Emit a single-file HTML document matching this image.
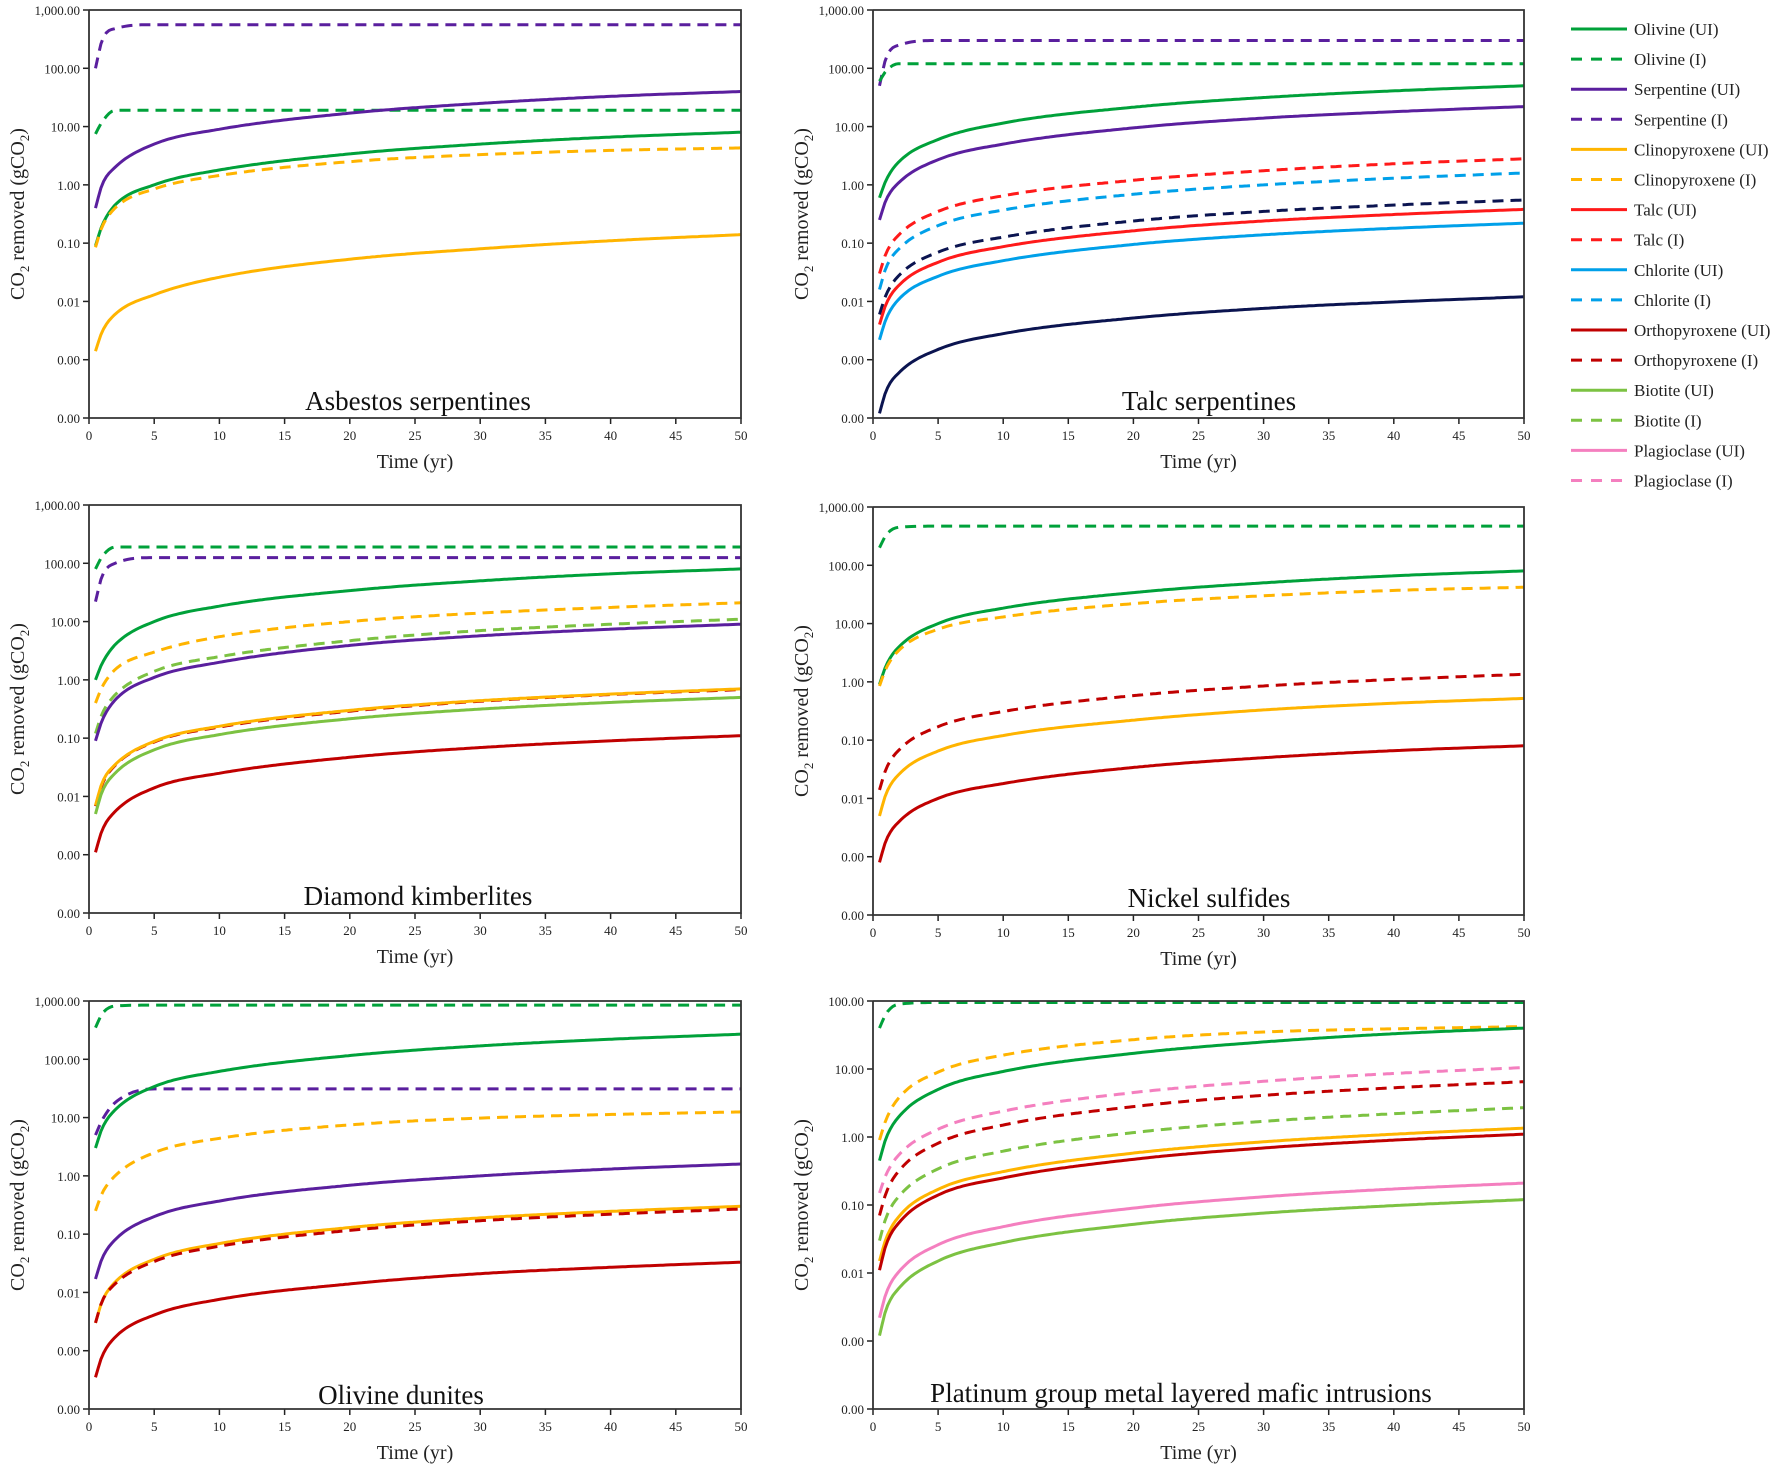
<!DOCTYPE html>
<html><head><meta charset="utf-8">
<style>
body{margin:0;background:#fff}
svg{display:block;font-family:"Liberation Serif",serif}
</style></head>
<body>
<svg id="fig" width="1772" height="1470" viewBox="0 0 1772 1470"></svg>
<script>
const T = [0.5,1,2,5,10,20,30,40,50];
const xTicks = [0,5,10,15,20,25,30,35,40,45,50];
const colors = {ol:'#00a13a',serp:'#5a1f9e',clino:'#ffb400',talc:'#ff1a1a',chl:'#00a0e9',ortho:'#c00000',bio:'#7cc242',plag:'#f47fbf',navy:'#0b1450'};

const asbestosSeries = [
 {m:'serp',d:true, v:[100,300,480,560,560,560,560,560,560]},
 {m:'ol',d:true, v:[7.5,12,19,19,19,19,19,19,19]},
 {m:'serp',d:false,v:[0.4,1,2,5,9,17,25,33,40]},
 {m:'ol',d:false,v:[0.09,0.2,0.45,1,1.8,3.4,5,6.6,8]},
 {m:'clino',d:true,v:[0.085,0.19,0.4,0.85,1.45,2.5,3.3,3.9,4.3]},
 {m:'clino',d:false,v:[0.0014,0.003,0.006,0.013,0.026,0.053,0.08,0.11,0.14]}
];
const talcSeries = [
 {m:'serp',d:true,v:[50,150,250,300,300,300,300,300,300]},
 {m:'ol',d:true,v:[60,90,120,120,120,120,120,120,120]},
 {m:'ol',d:false,v:[0.6,1.2,2.5,6,11.5,21.5,31.5,41,50]},
 {m:'serp',d:false,v:[0.25,0.55,1.1,2.7,5,9.5,14,18,22]},
 {m:'talc',d:true,v:[0.03,0.067,0.14,0.35,0.65,1.2,1.75,2.3,2.8]},
 {m:'chl',d:true,v:[0.016,0.038,0.08,0.2,0.37,0.69,1,1.3,1.6]},
 {m:'navy',d:true,v:[0.006,0.013,0.028,0.07,0.127,0.24,0.35,0.45,0.55]},
 {m:'talc',d:false,v:[0.004,0.009,0.019,0.047,0.087,0.163,0.24,0.31,0.38]},
 {m:'chl',d:false,v:[0.0022,0.005,0.011,0.027,0.05,0.095,0.139,0.18,0.22]},
 {m:'navy',d:false,v:[0.00012,0.00029,0.0006,0.0015,0.0028,0.0052,0.0076,0.0098,0.012]}
];
const diamondSeries = [
 {m:'ol',d:true,v:[80,130,190,190,190,190,190,190,190]},
 {m:'serp',d:true,v:[22,60,100,125,125,125,125,125,125]},
 {m:'ol',d:false,v:[1,1.9,4,10,18.4,34,50,66,80]},
 {m:'clino',d:true,v:[0.4,0.75,1.5,3,5.5,10,14,17.5,21]},
 {m:'bio',d:true,v:[0.12,0.26,0.55,1.4,2.5,4.7,7,9,11]},
 {m:'serp',d:false,v:[0.09,0.2,0.45,1.1,2,3.9,5.7,7.4,9]},
 {m:'ortho',d:true,v:[0.0068,0.016,0.034,0.086,0.155,0.29,0.43,0.56,0.68]},
 {m:'clino',d:false,v:[0.007,0.017,0.035,0.088,0.16,0.3,0.44,0.57,0.7]},
 {m:'bio',d:false,v:[0.005,0.012,0.025,0.063,0.115,0.215,0.315,0.41,0.5]},
 {m:'ortho',d:false,v:[0.0011,0.0026,0.0055,0.014,0.025,0.047,0.069,0.09,0.11]}
];
const nickelSeries = [
 {m:'ol',d:true,v:[200,330,450,470,470,470,470,470,470]},
 {m:'ol',d:false,v:[0.9,1.9,4,10,18.4,34,50,66,80]},
 {m:'clino',d:true,v:[0.85,1.7,3.5,8,13,22,30,37,42]},
 {m:'ortho',d:true,v:[0.014,0.032,0.068,0.17,0.31,0.58,0.85,1.1,1.35]},
 {m:'clino',d:false,v:[0.005,0.012,0.026,0.065,0.12,0.22,0.33,0.43,0.52]},
 {m:'ortho',d:false,v:[0.0008,0.0019,0.004,0.01,0.018,0.034,0.05,0.066,0.08]}
];
const duniteSeries = [
 {m:'ol',d:true,v:[350,600,820,850,850,850,850,850,850]},
 {m:'serp',d:true,v:[5,9,18,31,31,31,31,31,31]},
 {m:'ol',d:false,v:[3,6.5,13.5,34,62,116,170,221,270]},
 {m:'clino',d:true,v:[0.25,0.5,1,2.5,4.4,7.5,9.8,11.3,12.5]},
 {m:'serp',d:false,v:[0.017,0.038,0.08,0.2,0.37,0.69,1,1.31,1.6]},
 {m:'clino',d:false,v:[0.003,0.007,0.015,0.037,0.069,0.13,0.19,0.246,0.3]},
 {m:'ortho',d:true,v:[0.003,0.007,0.014,0.034,0.062,0.116,0.17,0.22,0.27]},
 {m:'ortho',d:false,v:[0.00035,0.0008,0.0017,0.0041,0.0076,0.014,0.021,0.027,0.033]}
];
const platinumSeries = [
 {m:'ol',d:true,v:[40,65,90,95,95,95,95,95,95]},
 {m:'clino',d:true,v:[0.9,1.8,3.8,9,16,27,35,39,42]},
 {m:'ol',d:false,v:[0.45,0.96,2,5,9.2,17,25,33,40]},
 {m:'plag',d:true,v:[0.15,0.28,0.55,1.3,2.4,4.5,6.6,8.6,10.5]},
 {m:'ortho',d:true,v:[0.07,0.15,0.32,0.81,1.5,2.8,4.1,5.3,6.5]},
 {m:'bio',d:true,v:[0.03,0.065,0.135,0.34,0.62,1.16,1.7,2.2,2.7]},
 {m:'clino',d:false,v:[0.015,0.032,0.068,0.17,0.31,0.58,0.85,1.1,1.35]},
 {m:'ortho',d:false,v:[0.011,0.026,0.055,0.14,0.25,0.47,0.69,0.9,1.1]},
 {m:'plag',d:false,v:[0.0022,0.005,0.0105,0.026,0.048,0.09,0.132,0.172,0.21]},
 {m:'bio',d:false,v:[0.0012,0.0029,0.006,0.015,0.028,0.052,0.076,0.098,0.12]}
];
const yTicksFull = ['1,000.00','100.00','10.00','1.00','0.10','0.01','0.00','0.00'];
const yTicksShort = ['100.00','10.00','1.00','0.10','0.01','0.00','0.00'];
const legendLabels = ['Olivine (UI)','Olivine (I)','Serpentine (UI)','Serpentine (I)','Clinopyroxene (UI)','Clinopyroxene (I)','Talc (UI)','Talc (I)','Chlorite (UI)','Chlorite (I)','Orthopyroxene (UI)','Orthopyroxene (I)','Biotite (UI)','Biotite (I)','Plagioclase (UI)','Plagioclase (I)'];
const legendKeys = ['ol','ol','serp','serp','clino','clino','talc','talc','chl','chl','ortho','ortho','bio','bio','plag','plag'];

const NS='http://www.w3.org/2000/svg';
const svg=document.getElementById('fig');
function mk(tag,attrs,parent){const e=document.createElementNS(NS,tag);for(const k in attrs)e.setAttribute(k,attrs[k]);(parent||svg).appendChild(e);return e;}

function monotone(xs,ys){
 const n=xs.length,d=[],m=[];
 for(let i=0;i<n-1;i++)d.push((ys[i+1]-ys[i])/(xs[i+1]-xs[i]));
 m[0]=d[0];m[n-1]=d[n-2];
 for(let i=1;i<n-1;i++){m[i]=(d[i-1]*d[i]<=0)?0:(d[i-1]+d[i])/2;}
 for(let i=0;i<n-1;i++){if(d[i]===0){m[i]=0;m[i+1]=0;continue;}const a=m[i]/d[i],b=m[i+1]/d[i],s=a*a+b*b;if(s>9){const t=3/Math.sqrt(s);m[i]=t*a*d[i];m[i+1]=t*b*d[i];}}
 return function(x){let i=0;while(i<n-2&&x>xs[i+1])i++;const h=xs[i+1]-xs[i],t=(x-xs[i])/h,t2=t*t,t3=t2*t;
  return (2*t3-3*t2+1)*ys[i]+(t3-2*t2+t)*h*m[i]+(-2*t3+3*t2)*ys[i+1]+(t3-t2)*h*m[i+1];};
}

function panel(name,title,L,R,Tp,B,topExp,yLabels,series,tx,ty,ytx){
 const g=mk('g',{});
 const nDec=topExp+4;
 const xs=t=>L+(R-L)*t/50;
 const ys=v=>Tp+(B-Tp)*(topExp-Math.log10(v))/nDec;
 yLabels.forEach((lab,i)=>{const y=Tp+(B-Tp)*i/nDec;
  mk('line',{x1:L-6,x2:L,y1:y,y2:y,stroke:'#222','stroke-width':1.5},g);
  const t=mk('text',{x:L-9,y:y+5,'text-anchor':'end','font-size':13,fill:'#222'},g);t.textContent=lab;
  });
 xTicks.forEach(v=>{const x=xs(v);
  mk('line',{x1:x,x2:x,y1:B,y2:B+6,stroke:'#222','stroke-width':1.5},g);
  const t=mk('text',{x:x,y:B+22,'text-anchor':'middle','font-size':13,fill:'#222'},g);t.textContent=v;
  });
 const cg=mk('clipPath',{id:'c'+name},g);mk('rect',{x:L,y:Tp-3,width:R-L+3,height:B-Tp+3},cg);
 series.forEach(s=>{const f=monotone(T,s.v.map(Math.log10));let d='';
  for(let k=0;k<=240;k++){const t=0.5+(49.5*k/240);const v=Math.pow(10,f(t));d+=(k?'L':'M')+xs(t).toFixed(1)+','+ys(v).toFixed(1);}
  const p=mk('path',{d:d,fill:'none',stroke:colors[s.m],'stroke-width':3,'clip-path':'url(#c'+name+')'},g);
  if(s.d)p.setAttribute('stroke-dasharray','11 7');
  
  });
 mk('polyline',{points:`${L},${Tp} ${L},${B} ${R},${B} ${R},${Tp} ${L},${Tp}`,fill:'none',stroke:'#333','stroke-width':1.8},g);
 const tt=mk('text',{x:tx,y:ty,'text-anchor':'middle','font-size':27,fill:'#111'},g);tt.textContent=title;
 
 const xt=mk('text',{x:(L+R)/2,y:B+50,'text-anchor':'middle','font-size':20,fill:'#222'},g);xt.textContent='Time (yr)';
 
 const cy=(Tp+B)/2;
 const yt=mk('text',{x:0,y:0,transform:`translate(${ytx},${cy}) rotate(-90)`,'text-anchor':'middle','font-size':20,fill:'#222'},g);
 yt.innerHTML='CO<tspan font-size="13" dy="5">2</tspan><tspan dy="-5"> removed (gCO</tspan><tspan font-size="13" dy="5">2</tspan><tspan dy="-5">)</tspan>';
 
}
panel('asbestos-panel','Asbestos serpentines',89,741,10,418,3,yTicksFull,asbestosSeries,418,410,24);
panel('talc-panel','Talc serpentines',873,1524,10,418,3,yTicksFull,talcSeries,1209,410,808);
panel('diamond-panel','Diamond kimberlites',89,741,505,913,3,yTicksFull,diamondSeries,418,905,24);
panel('nickel-panel','Nickel sulfides',873,1524,507,915,3,yTicksFull,nickelSeries,1209,907,808);
panel('dunite-panel','Olivine dunites',89,741,1001,1409,3,yTicksFull,duniteSeries,401,1404,24);
panel('platinum-panel','Platinum group metal layered mafic intrusions',873,1524,1001,1409,2,yTicksShort,platinumSeries,1181,1402,808);

const lg=mk('g',{});
legendLabels.forEach((lab,i)=>{const y=29+i*30.1;
 const e=mk('g',{},lg);
 
 
 const ln=mk('line',{x1:1571,x2:1627,y1:y,y2:y,stroke:colors[legendKeys[i]],'stroke-width':3},e);
 if(i%2===1)ln.setAttribute('stroke-dasharray','11 9');
 const t=mk('text',{x:1634,y:y+6,'font-size':17,fill:'#222'},e);t.textContent=lab;});
</script>
</body></html>
